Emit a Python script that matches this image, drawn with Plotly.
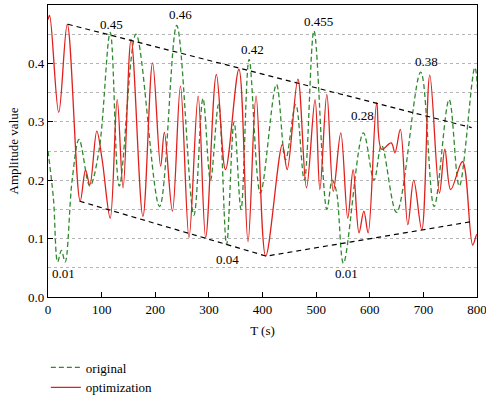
import plotly.graph_objects as go

# original (green dashed) – read extrema
orig_x = [0, 10, 18, 25, 32, 45, 58, 78, 95, 116, 133, 164, 208, 240, 272, 289, 303, 318, 333, 347, 360, 375,
          396, 426, 443, 462, 478, 496, 520, 530, 538, 551, 588, 608, 622, 650, 695, 720, 748, 767, 796, 805]
orig_y = [0.25, 0.17, 0.06, 0.08, 0.06, 0.2, 0.27, 0.19, 0.25, 0.453, 0.19, 0.45, 0.155, 0.465, 0.14, 0.34, 0.2,
          0.33, 0.09, 0.30, 0.15, 0.407, 0.178, 0.364, 0.235, 0.33, 0.2, 0.456, 0.15, 0.2, 0.18, 0.058, 0.281,
          0.2, 0.26, 0.145, 0.385, 0.155, 0.338, 0.19, 0.393, 0.25]

# optimization (red solid) – read extrema
opt_x = [0, 3, 20, 36, 60, 70, 78, 91, 101, 116, 129, 140, 155, 177, 195, 210, 217, 232, 247, 263, 280, 294,
         314, 331, 356, 373, 388, 406, 437, 446, 466, 482, 498, 507, 520, 532, 546, 559, 569, 580, 589, 597,
         613, 622, 640, 647, 657, 671, 682, 697, 712, 730, 740, 751, 773, 792, 800, 810]
opt_y = [0.475, 0.482, 0.316, 0.467, 0.164, 0.217, 0.192, 0.284, 0.235, 0.135, 0.338, 0.187, 0.441, 0.138,
         0.401, 0.224, 0.282, 0.147, 0.361, 0.102, 0.344, 0.102, 0.381, 0.218, 0.39, 0.095, 0.344, 0.07, 0.261,
         0.218, 0.373, 0.187, 0.338, 0.184, 0.347, 0.181, 0.281, 0.135, 0.218, 0.11, 0.147, 0.11, 0.333, 0.253,
         0.264, 0.247, 0.287, 0.124, 0.2, 0.115, 0.38, 0.178, 0.253, 0.184, 0.232, 0.089, 0.107, 0.06]

# envelope lines
upper_x = [37, 790]
upper_y = [0.467, 0.29]
lower_x = [59, 407, 790]
lower_y = [0.164, 0.07, 0.129]

# annotations
ann_text = ["0.45", "0.46", "0.42", "0.455", "0.38", "0.28", "0.04", "0.01", "0.01"]
ann_x = [118, 247, 381, 504, 705, 587, 334, 29, 557]
ann_y = [0.467, 0.483, 0.423, 0.471, 0.403, 0.31, 0.065, 0.041, 0.041]

FONT = "Liberation Serif, DejaVu Serif, serif"

fig = go.Figure()
fig.add_trace(go.Scatter(x=orig_x, y=orig_y, mode="lines", name="original",
                         line=dict(color="#2f8a2f", width=1.3, dash="5px,3px", shape="spline", smoothing=1.0)))
fig.add_trace(go.Scatter(x=opt_x, y=opt_y, mode="lines", name="optimization",
                         line=dict(color="#e0201c", width=1.3, shape="spline", smoothing=1.0)))
fig.add_trace(go.Scatter(x=upper_x, y=upper_y, mode="lines", showlegend=False,
                         line=dict(color="black", width=1.2, dash="5px,4px")))
fig.add_trace(go.Scatter(x=lower_x, y=lower_y, mode="lines", showlegend=False,
                         line=dict(color="black", width=1.2, dash="5px,4px")))

for t, x, y in zip(ann_text, ann_x, ann_y):
    fig.add_annotation(x=x, y=y, text=t, showarrow=False, font=dict(family=FONT, size=13, color="black"))

fig.update_layout(
    width=486, height=397,
    margin=dict(l=48, r=9, t=5, b=100, autoexpand=False),
    plot_bgcolor="white", paper_bgcolor="white",
    font=dict(family=FONT, size=13, color="black"),
    showlegend=True,
    legend=dict(x=-0.005, y=-0.19, xanchor="left", yanchor="top", bgcolor="rgba(0,0,0,0)",
                font=dict(family=FONT, size=13), tracegroupgap=0, itemwidth=30),
    xaxis=dict(range=[0, 800], tickvals=[0, 100, 200, 300, 400, 500, 600, 700, 800], automargin=False,
               ticklabeloverflow="allow",
               ticks="inside", ticklen=5, tickcolor="black", showline=True, linecolor="black", linewidth=1.2,
               mirror=True, showgrid=False, zeroline=False,
               title=dict(text="T (s)", standoff=10, font=dict(family=FONT, size=13))),
    yaxis=dict(range=[0, 0.5], dtick=0.1, tickformat=".1f", ticks="inside", ticklen=5, tickcolor="black",
               showline=True, linecolor="black", linewidth=1.2, mirror=True, zeroline=False, automargin=False,
               showgrid=True, gridcolor="#b5b5b5", griddash="dot", gridwidth=1,
               minor=dict(dtick=0.05, showgrid=True, gridcolor="#b5b5b5", griddash="dot", gridwidth=1),
               title=dict(text="Amplitude value", standoff=6, font=dict(family=FONT, size=13))),
)

fig.write_html("out.html", config={"displayModeBar": False},
               post_script="document.body.style.margin='0';document.body.style.overflow='hidden';")
